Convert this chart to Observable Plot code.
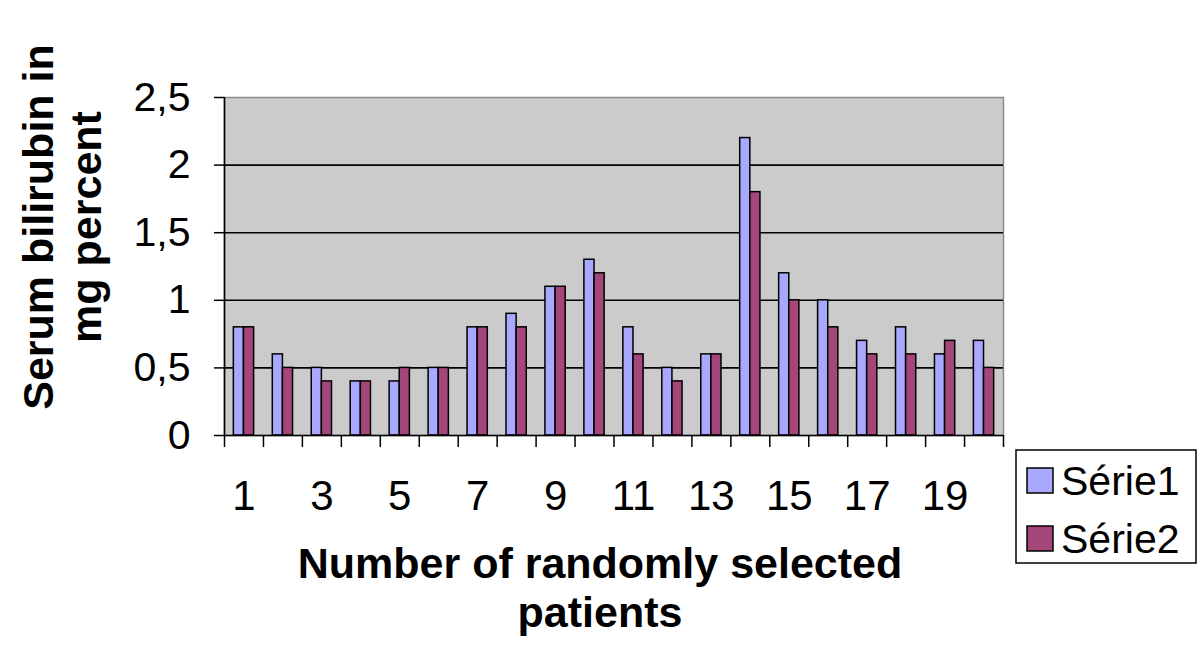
<!DOCTYPE html>
<html>
<head>
<meta charset="utf-8">
<script src="https://cdn.jsdelivr.net/npm/d3@7"></script>
<script src="https://cdn.jsdelivr.net/npm/@observablehq/plot@0.6"></script>
<style>
  html, body { margin: 0; padding: 0; background: #fff; }
  #wrap { position: relative; width: 1200px; height: 664px; font-family: "Liberation Sans", Arial, sans-serif; }
  #wrap svg { position: absolute; left: 0; top: 0; }
</style>
</head>
<body>
<div id="wrap"></div>
<script>
// ---- data ----
const patients = [1,2,3,4,5,6,7,8,9,10,11,12,13,14,15,16,17,18,19,20];
const seriesNames = ["Série1", "Série2"];
const serie1 = [0.8,0.6,0.5,0.4,0.4,0.5,0.8,0.9,1.1,1.3,0.8,0.5,0.6,2.2,1.2,1.0,0.7,0.8,0.6,0.7];
const serie2 = [0.8,0.5,0.4,0.4,0.5,0.5,0.8,0.8,1.1,1.2,0.6,0.4,0.6,1.8,1.0,0.8,0.6,0.6,0.7,0.5];
const seriesColors = ["#a8a8ff", "#a4467a"];
const yTicks = [0, 0.5, 1, 1.5, 2, 2.5];
const xTickLabels = [1,3,5,7,9,11,13,15,17,19];
const yTitle = ["Serum bilirubin in", "mg percent"];
const xTitle = ["Number of randomly selected", "patients"];

// ---- table ----
const rows = [];
patients.forEach((p, i) => {
  rows.push({patient: p, series: seriesNames[0], k: 0, value: serie1[i]});
  rows.push({patient: p, series: seriesNames[1], k: 1, value: serie2[i]});
});
const barW = 0.26;
const bounds = [...patients.map(p => p - 0.5), patients[patients.length - 1] + 0.5];
const fmt = d => String(d).replace(".", ",");

const chart = Plot.plot({
  width: 1200,
  height: 664,
  marginTop: 97,
  marginBottom: 229,
  marginLeft: 224,
  marginRight: 197,
  style: {fontFamily: '"Liberation Sans", Arial, sans-serif', color: "#000", background: "transparent"},
  x: {type: "linear", domain: [0.5, 20.5]},
  y: {domain: [0, 2.5]},
  color: {domain: seriesNames, range: seriesColors},
  marks: [
    Plot.frame({fill: "#cbcbcb", stroke: "#8a8a8a", strokeWidth: 1.5}),
    Plot.ruleY(yTicks.filter(t => t > 0 && t < 2.5), {stroke: "#000", strokeWidth: 1.6}),
    Plot.rect(rows, {
      x1: d => d.patient + (d.k - 1) * barW,
      x2: d => d.patient + d.k * barW,
      y1: 0,
      y2: "value",
      fill: "series",
      stroke: "#000",
      strokeWidth: 1.5
    }),
    Plot.ruleX([0.5], {stroke: "#000", strokeWidth: 1.6}),
    Plot.ruleY([0], {stroke: "#000", strokeWidth: 1.6}),
    Plot.axisY(yTicks, {tickSize: 10, tickPadding: 24, tickFormat: fmt, fontSize: 41, strokeWidth: 1.5, label: null}),
    Plot.axisX(bounds, {tickSize: 12, tickFormat: () => "", strokeWidth: 1.5, label: null}),
    Plot.axisX(xTickLabels, {tickSize: 0, tickPadding: 45, fontSize: 42, label: null})
  ]
});
const wrap = document.getElementById("wrap");
wrap.appendChild(chart);

// ---- titles and legend overlay ----
const svg = d3.select(wrap).append("svg")
  .attr("width", 1200).attr("height", 664)
  .style("font-family", '"Liberation Sans", Arial, sans-serif');

const yt = svg.append("g").attr("transform", "translate(0,227) rotate(-90)");
yt.selectAll("text").data(yTitle).join("text")
  .attr("x", 0).attr("y", (d, i) => 53 + i * 48)
  .attr("text-anchor", "middle")
  .attr("font-weight", "bold").attr("font-size", 43)
  .text(d => d);

svg.selectAll("text.xt").data(xTitle).join("text").attr("class", "xt")
  .attr("x", 600).attr("y", (d, i) => 578 + i * 49)
  .attr("text-anchor", "middle")
  .attr("font-weight", "bold").attr("font-size", 43)
  .text(d => d);

const lg = svg.append("g");
lg.append("rect").attr("x", 1016).attr("y", 450).attr("width", 180).attr("height", 113)
  .attr("fill", "#fff").attr("stroke", "#000").attr("stroke-width", 1.5);
const items = lg.selectAll("g.item").data(seriesNames).join("g").attr("class", "item")
  .attr("transform", (d, i) => `translate(0,${i * 58})`);
items.append("rect").attr("x", 1027).attr("y", 468).attr("width", 26).attr("height", 25)
  .attr("fill", (d, i) => seriesColors[i]).attr("stroke", "#000").attr("stroke-width", 1.5);
items.append("text").attr("x", 1061).attr("y", 495).attr("font-size", 41).text(d => d);
</script>
</body>
</html>
